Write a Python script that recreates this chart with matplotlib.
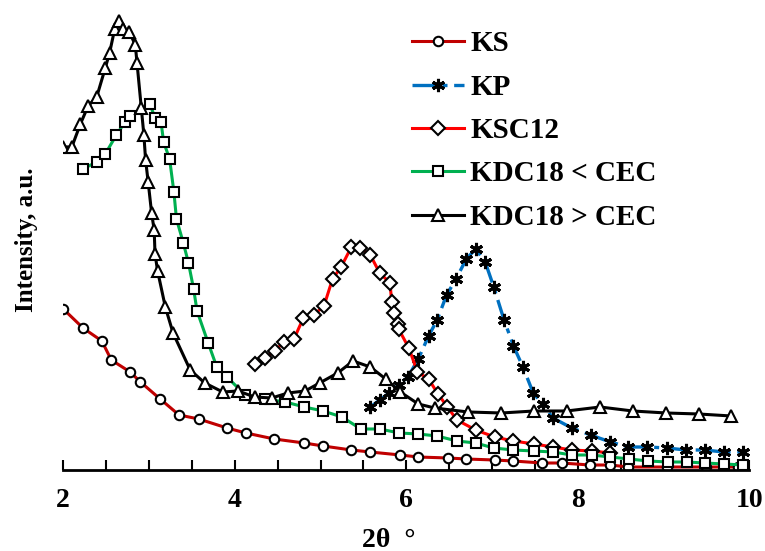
import matplotlib
matplotlib.use("Agg")
import matplotlib.pyplot as plt
from matplotlib.ticker import MultipleLocator

# 2-theta positions and intensities (a.u.)
ks_x = [2.00, 2.23, 2.45, 2.56, 2.78, 2.90, 3.13, 3.35, 3.58, 3.91, 4.13, 4.46,
        4.81, 5.03, 5.36, 5.58, 5.93, 6.14, 6.49, 6.70, 7.03, 7.25, 7.58, 7.81,
        8.14, 8.38, 8.59, 9.04, 9.49, 9.87]
ks_y = [161, 142, 129, 110, 98, 88, 71, 55, 51, 42, 37, 31, 27, 24, 20, 18, 15,
        13, 12, 11, 10, 9, 7, 7, 5, 5, 3, 3, 3, 3]

kp_x = [5.58, 5.69, 5.80, 5.91, 6.02, 6.14, 6.26, 6.36, 6.47, 6.58, 6.70, 6.81,
        6.92, 7.02, 7.14, 7.25, 7.36, 7.48, 7.59, 7.71, 7.93, 8.15, 8.38, 8.59,
        8.81, 9.04, 9.26, 9.48, 9.70, 9.93]
kp_y = [63, 70, 77, 85, 93, 111, 134, 150, 175, 191, 211, 221, 208, 183, 150,
        124, 103, 77, 66, 52, 42, 35, 28, 23, 23, 22, 20, 20, 18, 18]

ksc12_x = [4.24, 4.35, 4.47, 4.57, 4.69, 4.80, 4.92, 5.04, 5.14, 5.24, 5.36,
           5.46, 5.58, 5.69, 5.81, 5.83, 5.86, 5.90, 5.91, 6.03, 6.13, 6.26,
           6.37, 6.48, 6.59, 6.81, 7.03, 7.25, 7.49, 7.71, 7.93, 8.16, 8.38]
ksc12_y = [106, 112, 119, 128, 131, 152, 155, 164, 191, 203, 223, 222, 215, 197,
           187, 168, 157, 146, 141, 122, 98, 91, 76, 63, 50, 40, 33, 29, 26, 23,
           20, 19, 17]

kdc_lo_x = [2.23, 2.39, 2.49, 2.62, 2.72, 2.78, 3.01, 3.07, 3.14, 3.17, 3.24,
            3.29, 3.32, 3.40, 3.46, 3.52, 3.56, 3.69, 3.79, 3.91, 4.12, 4.35,
            4.59, 4.81, 5.03, 5.25, 5.47, 5.69, 5.92, 6.14, 6.36, 6.59, 6.81,
            7.02, 7.25, 7.49, 7.71, 7.93, 8.16, 8.38, 8.60, 8.82, 9.05, 9.27,
            9.48, 9.71, 9.93]
kdc_lo_y = [301, 308, 316, 335, 348, 354, 366, 352, 348, 328, 311, 278, 251, 227,
            207, 181, 159, 127, 103, 93, 75, 71, 68, 63, 59, 53, 41, 41, 37, 36,
            34, 29, 27, 22, 20, 19, 18, 15, 15, 13, 11, 9, 8, 8, 7, 6, 5]

kdc_hi_x = [2.00, 2.10, 2.20, 2.29, 2.39, 2.49, 2.54, 2.60, 2.65, 2.70, 2.77,
            2.84, 2.86, 2.91, 2.94, 2.96, 2.99, 3.03, 3.06, 3.07, 3.10, 3.19,
            3.28, 3.48, 3.65, 3.86, 4.04, 4.23, 4.43, 4.62, 4.82, 4.99, 5.20,
            5.38, 5.58, 5.76, 5.93, 6.14, 6.33, 6.72, 7.11, 7.49, 7.87, 8.26,
            8.64, 9.03, 9.41, 9.79]
kdc_hi_y = [323, 323, 346, 364, 373, 402, 417, 441, 449, 441, 438, 425, 407, 362,
            335, 310, 288, 257, 240, 216, 199, 163, 137, 100, 87, 78, 79, 73, 72,
            77, 79, 87, 97, 109, 103, 91, 78, 66, 62, 58, 57, 59, 59, 63, 59, 57,
            56, 54]

plt.rcParams['font.family'] = ['Liberation Serif', 'DejaVu Serif']
plt.rcParams['font.weight'] = 'bold'

fig = plt.figure(figsize=(7.65, 5.51), dpi=100)
ax = fig.add_axes([0.0827, 0.147, 0.8968, 0.835])

mk = dict(markerfacecolor='white', markeredgecolor='black', markeredgewidth=1.5)

ax.plot(ks_x, ks_y, color='#C00000', lw=2.2, marker='o', ms=6.8, label='KS', **mk)
ax.plot(kp_x, kp_y, color='#0070C0', lw=2.4, dashes=(7, 2, 1.5, 2),
        marker=(6, 2, 0), ms=9.5, markeredgecolor='black', markeredgewidth=2.2,
        label='KP')
ax.plot(ksc12_x, ksc12_y, color='#FF0000', lw=2.2, marker='D', ms=6.8,
        label='KSC12', **mk)
ax.plot(kdc_lo_x, kdc_lo_y, color='#00B050', lw=2.2, marker='s', ms=7,
        label='KDC18 < CEC', **mk)
ax.plot(kdc_hi_x, kdc_hi_y, color='black', lw=2.2, marker='^', ms=8.5,
        label='KDC18 > CEC', **mk)

ax.set_xlim(2, 10)
ax.set_ylim(0, 460)
ax.xaxis.set_major_locator(MultipleLocator(2))
ax.xaxis.set_minor_locator(MultipleLocator(0.5))
ax.tick_params(axis='x', which='both', direction='in', length=7, width=1.5,
               pad=13, labelsize=20)
ax.set_yticks([])
for s in ['left', 'right', 'top']:
    ax.spines[s].set_visible(False)
ax.spines['bottom'].set_linewidth(2)

ax.set_xlabel('2θ  °', fontsize=20, fontweight='bold', labelpad=10)
ax.xaxis.set_label_coords(0.475, -0.125)
ax.set_ylabel('Intensity, a.u.', fontsize=18, fontweight='bold', labelpad=18)

leg = fig.legend(loc='upper left', bbox_to_anchor=(0.523, 0.966), frameon=False,
                 fontsize=21, handlelength=1.8, handletextpad=0.2,
                 labelspacing=0.56, borderaxespad=0)

fig.savefig('out.png', dpi=100)
